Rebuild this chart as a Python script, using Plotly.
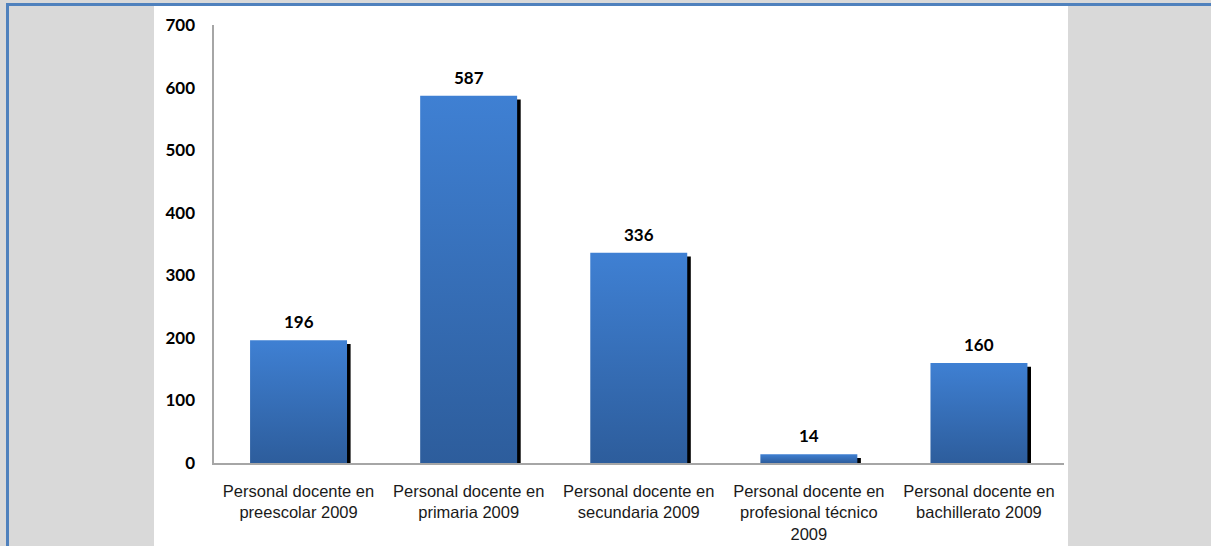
import plotly.graph_objects as go

# Teaching staff by education level, 2009
categories = [
    "Personal docente en<br>preescolar 2009",
    "Personal docente en<br>primaria 2009",
    "Personal docente en<br>secundaria 2009",
    "Personal docente en<br>profesional técnico<br>2009",
    "Personal docente en<br>bachillerato 2009",
]
values = [196, 587, 336, 14, 160]
y_ticks = [0, 100, 200, 300, 400, 500, 600, 700]

W, H = 1211, 546
HALF = 0.285          # half bar width in category units
SH_DX = 0.021         # shadow offset to the right (category units)
SH_DY = 6             # shadow offset downward (value units)

fig = go.Figure()

for i, v in enumerate(values):
    # drop shadow behind the bar
    sx0, sx1 = i - HALF + SH_DX, i + HALF + SH_DX
    stop = max(v - SH_DY, 0)
    fig.add_trace(go.Scatter(
        x=[sx0, sx1, sx1, sx0, sx0], y=[0, 0, stop, stop, 0],
        mode="lines", fill="toself", fillcolor="#000000",
        line=dict(width=0), hoverinfo="skip", showlegend=False,
    ))
    # bar body with a vertical blue gradient
    x0, x1 = i - HALF, i + HALF
    fig.add_trace(go.Scatter(
        x=[x0, x1, x1, x0, x0], y=[0, 0, v, v, 0],
        mode="lines", fill="toself",
        fillgradient=dict(type="vertical",
                          colorscale=[[0, "#2d5d9c"], [1, "#3f80d3"]]),
        line=dict(width=0), hoverinfo="skip", showlegend=False,
    ))
    fig.add_annotation(
        x=i, y=v, text=f"<b>{v}</b>", showarrow=False,
        yanchor="bottom", yshift=6,
        font=dict(family="Lato", size=17, color="#000000"),
    )

fig.update_layout(
    width=W, height=H,
    margin=dict(l=0, r=0, t=0, b=0, autoexpand=False),
    paper_bgcolor="#d9d9d9",
    plot_bgcolor="rgba(0,0,0,0)",
    xaxis=dict(
        domain=[213.5 / W, 1064 / W],
        range=[-0.5, 4.5],
        tickvals=list(range(len(categories))),
        ticktext=categories,
        tickfont=dict(family="Liberation Sans", size=16.5, color="#1a1a1a"),
        showgrid=False, zeroline=False, automargin=False,
        showline=True, linecolor="#a6a6a6", linewidth=2,
        ticks="", ticklabelstandoff=12,
    ),
    yaxis=dict(
        domain=[1 - 463 / H, 1 - 25 / H],
        range=[0, 700],
        tickvals=y_ticks,
        tickfont=dict(family="Lato", size=17, color="#000000", weight="bold"),
        showgrid=False, zeroline=False, automargin=False,
        showline=True, linecolor="#a6a6a6", linewidth=2,
        ticks="", ticklabelstandoff=13,
    ),
    shapes=[
        # white panel
        dict(type="rect", xref="paper", yref="paper", layer="below",
             x0=154 / W, x1=1068 / W, y0=0, y1=1 - 6 / H,
             fillcolor="#ffffff", line=dict(width=0)),
        # blue frame lines along top and left
        dict(type="line", xref="paper", yref="paper",
             x0=6 / W, x1=1, y0=1 - 4.5 / H, y1=1 - 4.5 / H,
             line=dict(color="#4f81bd", width=3)),
        dict(type="line", xref="paper", yref="paper",
             x0=7.5 / W, x1=7.5 / W, y0=0, y1=1 - 3 / H,
             line=dict(color="#4f81bd", width=3)),
    ],
)

fig.write_html("out.html")
